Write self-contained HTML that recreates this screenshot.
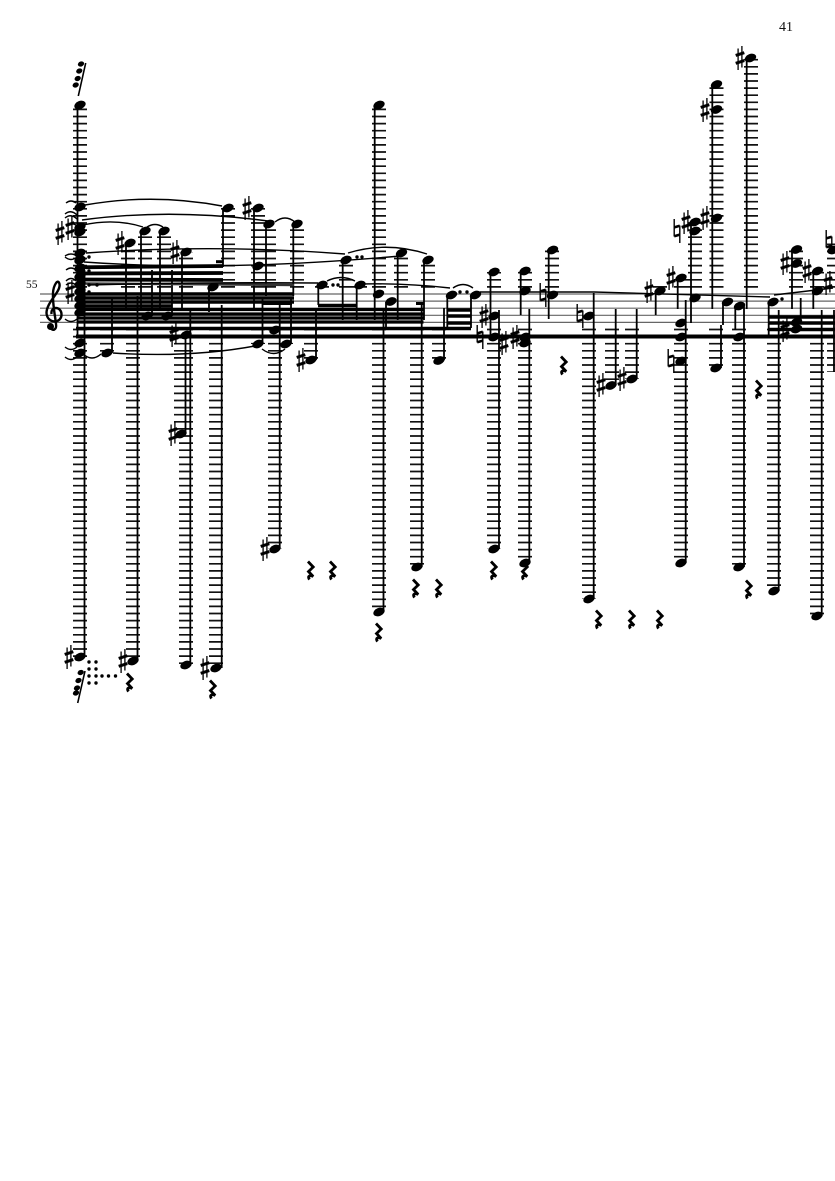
<!DOCTYPE html>
<html>
<head>
<meta charset="utf-8">
<style>
html,body{margin:0;padding:0;background:#fff;width:835px;height:1181px;overflow:hidden}
svg{display:block}
text{font-family:"Liberation Serif",serif;fill:#111}
</style>
</head>
<body>
<svg width="835" height="1181" viewBox="0 0 835 1181" xmlns="http://www.w3.org/2000/svg">
<defs>
<ellipse id="n" rx="5.9" ry="4" transform="rotate(-22)" fill="#000"/>
<ellipse id="g" rx="3.2" ry="2.5" transform="rotate(-22)" fill="#000"/>
<g id="s" stroke="#000" fill="none">
<path d="M-1.9 -9.5V12M1.9 -12V9.5" stroke-width="1.3"/>
<path d="M-4.3 -2.6L4.3 -5.3M-4.3 5.3L4.3 2.6" stroke-width="3"/>
</g>
<g id="h" stroke="#000" fill="none">
<path d="M-2.8 -12V5.5M2.8 -5.5V12" stroke-width="1.4"/>
<path d="M-2.8 -3.6L2.8 -5.2M-2.8 5.2L2.8 3.6" stroke-width="2.6"/>
</g>
<path id="r" d="M-2 -8.5L3.2 -3L-1.5 1.5L3.2 6.5C0 5 -3 6 -0.5 9.5" fill="none" stroke="#000" stroke-width="2.8"/>
</defs>

<text x="779" y="31" font-size="14">41</text>
<text x="26" y="288" font-size="11.5">55</text>

<!-- staff -->
<g stroke="#666" stroke-width="1.2">
<path d="M40 294H835M40 301.1H835M40 308.2H835M40 315.3H835M40 322.4H835"/>
</g>

<!-- clef -->
<path d="M50.5 327C52 332 57 330 56 324C55 315 52.5 304 53 293C53.5 285 58 278 59.5 284C61 292 46.5 302 46.5 313C47 324 62 324 61.5 314C61 306 50.5 306 51.5 314" fill="none" stroke="#000" stroke-width="2.4"/>
<circle cx="50.5" cy="326.5" r="3.5" fill="#000"/>

<!-- ledger stacks above -->
<g fill="none" stroke="#111" stroke-width="14" stroke-dasharray="1.7 5.4">
<path d="M80 287.75V105M128 287.75V245M145 287.75V231M164 287.75V231M186 287.75V252M228 287.75V208M258 287.75V208M269 287.75V224M297 287.75V224M346 287.75V260M379 287.75V105M401 287.75V253M428 287.75V260M322 287.75V285M360 287.75V285M494 287.75V272M525 287.75V271M552 287.75V250M660 287.75V285M681 287.75V278M695 287.75V222M716.5 287.75V85M751 287.75V58M796 287.75V250M817 287.75V271M834 287.75V241"/>
</g>
<!-- ledger stacks below -->
<g fill="none" stroke="#111" stroke-width="14" stroke-dasharray="1.7 5.4">
<path d="M80 328.65V657M107 328.65V353M133 328.65V661M181 328.65V434M186 328.65V665M216 328.65V668M258 328.65V344M286 328.65V344M275 328.65V549M311 328.65V360M379 328.65V612M417 328.65V567M439 328.65V360M494 328.65V549M525 328.65V563M589 328.65V599M612 328.65V385M632 328.65V379M681 328.65V563M716 328.65V368M739 328.65V567M774 328.65V591M796 328.65V332M817 328.65V616M834 328.65V372"/>
</g>

<!-- stems -->
<g fill="none" stroke="#000" stroke-width="1.8">
<path d="M77.5 105V338M84.5 657V270M112 297V353M137.5 661V296M126 245V308M141 231V308M160 231V310M182 252V308M152 270V316M172 270V316M190.3 665V308M185.5 434V335M221.7 668V305M209 287V312M223 208V267M254 208V308M266 224V296M293.3 224V296M262.5 344V298M291 344V298M279.7 549V305M316 360V308M318.3 285V305M342.7 260V320M356.7 285V320M374.7 105V320M383.5 612V308M386 302V330M397.7 253V320M424 260V320M421.7 567V305M444 360V308M447.3 295V328M471 295V328M490.5 272V338M499 549V310M520.7 271V315M529.3 563V309M548.7 250V319M593.7 599V293M615.7 385V309M636.7 379V309M655.7 291V315M677.7 278V309M691 298V323M685.7 563V300M691 222V322M712.3 85V309M746.7 58V309M721 368V325M723 302V325M744 567V305M735.3 306V330M768.7 302V336M778.7 591V310M792 250V309M800.7 298V320M813.3 271V309M821.7 616V310M834 372V310"/>
</g>

<!-- chord block -->
<rect x="76.5" y="266" width="8.5" height="50" fill="#000"/>

<!-- beams -->
<g fill="none" stroke="#000">
<path d="M78 267.3L223 266M78 273.5L223 273M78 279.5L223 280" stroke-width="3.8"/>
<path d="M216 261.7H223" stroke-width="3"/>
<path d="M78 283.5L294 285" stroke-width="2.4" stroke="#333"/>
<path d="M78 294H294M78 298H294M78 302H294" stroke-width="3.4"/>
<path d="M78 306H172" stroke-width="3.4"/>
<path d="M78 309.5H423.5M78 314H423.5M78 318H423.5M78 322H423.5" stroke-width="3.2"/>
<path d="M76 328.5H471" stroke-width="3.6"/>
<path d="M76 336.5H835" stroke-width="4"/>
<path d="M318 305.5H357" stroke-width="3.5"/>
<path d="M263 303.5H292M283 314H292M416 303.5H424" stroke-width="3"/>
<path d="M447 310H471M447 316H471M447 323H471" stroke-width="3.4"/>
<path d="M768.5 317H835M768.5 323H835M768.5 329.5H835" stroke-width="3.6"/>
</g>

<!-- ties and slurs -->
<g fill="none" stroke="#000" stroke-width="1.4">
<path d="M85 205Q153 193 222 206"/>
<path d="M82 220Q170 208 268 221"/>
<path d="M83 225Q115 218 143 227"/>
<path d="M147 227Q155 222 163 227"/>
<path d="M275 222Q285 214 295 222"/>
<path d="M86 253Q215 244 345 254"/>
<path d="M84 262Q220 272 400 256"/>
<path d="M348 253Q387 241 427 254"/>
<path d="M327 281Q341 274 355 281"/>
<path d="M88 285Q200 282 318 283"/>
<path d="M360 284Q405 283 450 288"/>
<path d="M453 288Q463 281 473 288"/>
<path d="M83 354Q92 362 101 354"/>
<path d="M113 353Q190 358 255 346"/>
<path d="M262 349Q274 358 285 349"/>
<path d="M480 292H594L770 297"/>
<path d="M774 295L833 288"/>
<path d="M66 203Q71 199 76 203M65 214Q71 209 77 215M65 218Q71 213 77 219M66 226Q71 221 77 226M65 256Q71 252 77 256M65 257Q71 262 77 257M66 270Q71 266 76 270M66 281Q71 276 76 281M66 285Q71 281 76 285M65 319Q71 324 77 319M65 347Q71 352 77 347M65 357Q71 362 77 357"/>
</g>

<!-- dots -->
<g fill="#000">
<circle cx="89" cy="257" r="1.7"/><circle cx="89" cy="271" r="1.7"/><circle cx="89" cy="285" r="1.7"/><circle cx="97" cy="285" r="1.7"/><circle cx="89" cy="292" r="1.7"/>
<circle cx="357" cy="257" r="1.7"/><circle cx="362" cy="257" r="1.7"/><circle cx="333" cy="285" r="1.7"/><circle cx="338" cy="285" r="1.7"/>
<circle cx="460" cy="292" r="1.7"/><circle cx="467" cy="292" r="1.7"/><circle cx="782" cy="299" r="1.7"/>
<circle cx="89" cy="662" r="1.7"/><circle cx="96" cy="662" r="1.7"/><circle cx="89" cy="669" r="1.7"/><circle cx="96" cy="669" r="1.7"/>
<circle cx="89" cy="676" r="1.7"/><circle cx="96" cy="676" r="1.7"/><circle cx="102" cy="676" r="1.7"/><circle cx="108.5" cy="676" r="1.7"/><circle cx="115.5" cy="676" r="1.7"/>
<circle cx="89" cy="683" r="1.7"/><circle cx="96" cy="683" r="1.7"/>
</g>

<!-- note heads -->
<g>
<use href="#n" x="80" y="105"/><use href="#n" x="80" y="207"/><use href="#n" x="80" y="227"/><use href="#n" x="80" y="232"/><use href="#n" x="80" y="253"/><use href="#n" x="80" y="260"/><use href="#n" x="80" y="268"/><use href="#n" x="80" y="276"/><use href="#n" x="80" y="284"/><use href="#n" x="80" y="291"/><use href="#n" x="80" y="298"/><use href="#n" x="80" y="305"/><use href="#n" x="80" y="312"/><use href="#n" x="80" y="343"/><use href="#n" x="80" y="353"/><use href="#n" x="80" y="657"/>
<use href="#n" x="107" y="353"/><use href="#n" x="133" y="661"/><use href="#n" x="130" y="243"/><use href="#n" x="145" y="231"/><use href="#n" x="164" y="231"/><use href="#n" x="186" y="252"/>
<use href="#n" x="147" y="316"/><use href="#n" x="167" y="316"/><use href="#n" x="186" y="335"/><use href="#n" x="181" y="434"/><use href="#n" x="186" y="665"/><use href="#n" x="216" y="668"/><use href="#n" x="213" y="287"/>
<use href="#n" x="228" y="208"/><use href="#n" x="258" y="208"/><use href="#n" x="269" y="224"/><use href="#n" x="297" y="224"/><use href="#n" x="258" y="266"/><use href="#n" x="258" y="344"/><use href="#n" x="286" y="344"/><use href="#n" x="275" y="330"/><use href="#n" x="275" y="549"/>
<use href="#n" x="311" y="360"/><use href="#n" x="322" y="285"/><use href="#n" x="346" y="260"/><use href="#n" x="360" y="285"/><use href="#n" x="378.5" y="294"/><use href="#n" x="379" y="105"/><use href="#n" x="379" y="612"/><use href="#n" x="391" y="301.5"/><use href="#n" x="401.5" y="253"/><use href="#n" x="428" y="260"/><use href="#n" x="417" y="567"/><use href="#n" x="439" y="360.5"/><use href="#n" x="451.5" y="295"/><use href="#n" x="475.5" y="295"/>
<use href="#n" x="494" y="272"/><use href="#n" x="494" y="316"/><use href="#n" x="494" y="337"/><use href="#n" x="494" y="549"/><use href="#n" x="525" y="271"/><use href="#n" x="525" y="291"/><use href="#n" x="525" y="337"/><use href="#n" x="525" y="343"/><use href="#n" x="525" y="563"/><use href="#n" x="552.5" y="250"/><use href="#n" x="552.5" y="295"/>
<use href="#n" x="589" y="316"/><use href="#n" x="589" y="599"/><use href="#n" x="611" y="385.5"/><use href="#n" x="632" y="379"/><use href="#n" x="660" y="291"/><use href="#n" x="681" y="278"/><use href="#n" x="695" y="298"/><use href="#n" x="681" y="323"/><use href="#n" x="681" y="337"/><use href="#n" x="681" y="361"/><use href="#n" x="681" y="563"/>
<use href="#n" x="695" y="222"/><use href="#n" x="695" y="231"/><use href="#n" x="716.5" y="84.5"/><use href="#n" x="716.5" y="109.5"/><use href="#n" x="716.5" y="218"/><use href="#n" x="750.5" y="58"/><use href="#n" x="716" y="368"/><use href="#n" x="727.5" y="302"/><use href="#n" x="739" y="337"/><use href="#n" x="739.5" y="306"/><use href="#n" x="739" y="567"/>
<use href="#n" x="773" y="302"/><use href="#n" x="774" y="591"/><use href="#n" x="796.5" y="249.5"/><use href="#n" x="796.5" y="263.5"/><use href="#n" x="796.5" y="322"/><use href="#n" x="796.5" y="329"/><use href="#n" x="817.5" y="271"/><use href="#n" x="817.5" y="291"/><use href="#n" x="817" y="616"/><use href="#n" x="833" y="250"/>
</g>

<!-- sharps -->
<g>
<use href="#s" x="60" y="233"/><use href="#s" x="70" y="228"/><use href="#s" x="70" y="292"/><use href="#s" x="69" y="657"/>
<use href="#s" x="120" y="243"/><use href="#s" x="123" y="661"/><use href="#s" x="175" y="252"/><use href="#s" x="174" y="335"/><use href="#s" x="173" y="434"/><use href="#s" x="205" y="668"/><use href="#s" x="247" y="208"/><use href="#s" x="265" y="549"/><use href="#s" x="301" y="360"/>
<use href="#s" x="484" y="316"/><use href="#s" x="504" y="343"/><use href="#s" x="515" y="337"/><use href="#s" x="601" y="385"/><use href="#s" x="622" y="379"/><use href="#s" x="649" y="291"/><use href="#s" x="671" y="278"/>
<use href="#s" x="686" y="222"/><use href="#s" x="705" y="218"/><use href="#s" x="705" y="110"/><use href="#s" x="740" y="58"/><use href="#s" x="785" y="263"/><use href="#s" x="785" y="330"/><use href="#s" x="807" y="271"/><use href="#s" x="828" y="283"/>
</g>

<!-- naturals -->
<g>
<use href="#h" x="480" y="337"/><use href="#h" x="543" y="295"/><use href="#h" x="580" y="316"/><use href="#h" x="671" y="361"/><use href="#h" x="677" y="231"/><use href="#h" x="829" y="242"/>
</g>

<!-- rests -->
<g>
<use href="#r" x="563" y="365"/><use href="#r" x="758" y="389"/><use href="#r" x="310" y="570"/><use href="#r" x="332" y="570"/><use href="#r" x="415" y="588"/><use href="#r" x="438" y="588"/><use href="#r" x="378" y="632"/><use href="#r" x="493" y="570"/><use href="#r" x="524" y="570"/><use href="#r" x="598" y="619"/><use href="#r" x="631" y="619"/><use href="#r" x="659" y="619"/><use href="#r" x="748" y="589"/><use href="#r" x="129" y="682"/><use href="#r" x="212" y="689"/>
</g>

<!-- grace notes -->
<g>
<path d="M85.7 63L78.3 96" stroke="#000" stroke-width="1.6" fill="none"/>
<use href="#g" x="81" y="64"/><use href="#g" x="79.3" y="71"/><use href="#g" x="77.7" y="78.5"/><use href="#g" x="75.7" y="85"/>
<path d="M85 671L77.7 703" stroke="#000" stroke-width="1.6" fill="none"/>
<use href="#g" x="80.7" y="672.5"/><use href="#g" x="78.5" y="680.5"/><use href="#g" x="77" y="688"/><use href="#g" x="76" y="693"/>
</g>
</svg>
</body>
</html>
